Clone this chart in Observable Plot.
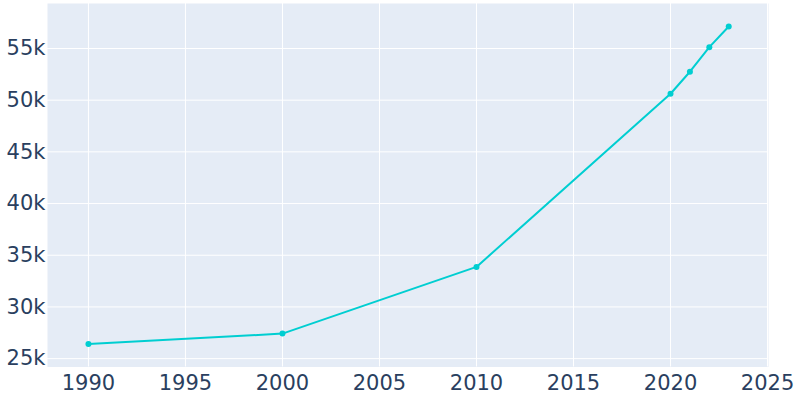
<!DOCTYPE html>
<html><head><meta charset="utf-8">
<script src="https://cdn.jsdelivr.net/npm/d3@7"></script>
<script src="https://cdn.jsdelivr.net/npm/@observablehq/plot@0.6"></script>
<style>body{margin:0;background:#fff;} svg{display:block;}</style>
</head><body><div id="chart"></div>
<script>
const years = [1990, 2000, 2010, 2020, 2021, 2022, 2023];
const population = [26410, 27420, 33870, 50620, 52750, 55130, 57130];
const xTicks = [1990, 1995, 2000, 2005, 2010, 2015, 2020, 2025];
const yTicks = [25000, 30000, 35000, 40000, 45000, 50000, 55000];

const data = years.map((y, i) => ({year: y, pop: population[i]}));

const chart = Plot.plot({
  width: 800, height: 400,
  marginLeft: 47, marginRight: 32, marginTop: 3, marginBottom: 33.5,
  style: {fontFamily: "DejaVu Sans", fontSize: "21px", color: "#2a3f5f", background: "#fff"},
  x: {domain: [1987.89, 2025.05]},
  y: {domain: [24190, 59350]},
  marks: [
    Plot.frame({fill: "#E5ECF6", stroke: null}),
    Plot.gridX(xTicks, {stroke: "#fff", strokeOpacity: 1, strokeWidth: 1}),
    Plot.gridY(yTicks, {stroke: "#fff", strokeOpacity: 1, strokeWidth: 1}),
    Plot.axisX(xTicks, {tickSize: 0, tickPadding: 8, tickFormat: d => String(d), fill: "#2a3f5f", fontSize: 21, label: null}),
    Plot.axisY(yTicks, {tickSize: 0, tickPadding: 2, tickFormat: d => (d/1000) + "k", fill: "#2a3f5f", fontSize: 21, label: null}),
    Plot.line(data, {x: "year", y: "pop", stroke: "#00CED1", strokeWidth: 2}),
    Plot.dot(data, {x: "year", y: "pop", fill: "#00CED1", r: 3})
  ]
});
document.getElementById("chart").appendChild(chart);
</script></body></html>
